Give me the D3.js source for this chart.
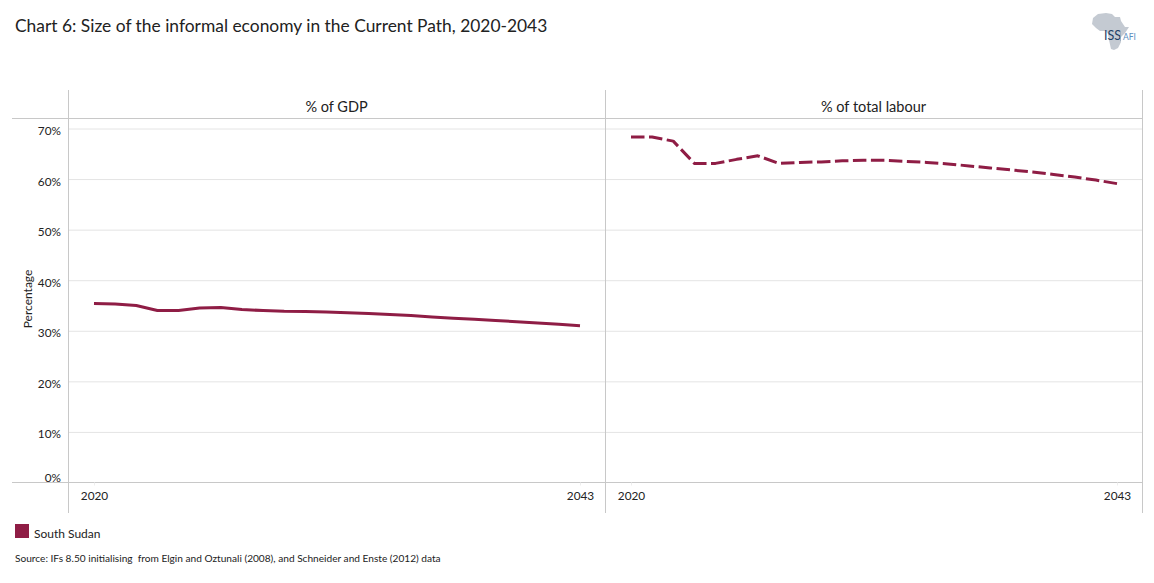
<!DOCTYPE html>
<html>
<head>
<meta charset="utf-8">
<script src="https://cdn.jsdelivr.net/npm/d3@7"></script>
<style>
html, body { margin: 0; padding: 0; background: #fff; }
svg { display: block; }
text { font-family: Lato, "Open Sans", sans-serif; fill: #222; }
</style>
</head>
<body>
<svg id="output" width="1154" height="583"></svg>
<script>
// values
var years = [2020, 2021, 2022, 2023, 2024, 2025, 2026, 2027, 2028, 2029, 2030, 2031,
    2032, 2033, 2034, 2035, 2036, 2037, 2038, 2039, 2040, 2041, 2042, 2043];
var gdpValues = [35.4, 35.3, 35.0, 34.0, 34.0, 34.5, 34.6, 34.2, 34.0, 33.85, 33.8, 33.7,
    33.55, 33.4, 33.2, 33.0, 32.75, 32.5, 32.3, 32.05, 31.8, 31.55, 31.3, 31.0];
var labourValues = [68.3, 68.3, 67.5, 63.1, 63.1, 63.9, 64.6, 63.1, 63.3, 63.4, 63.6, 63.7,
    63.7, 63.5, 63.3, 63.0, 62.6, 62.2, 61.8, 61.4, 60.9, 60.4, 59.8, 59.1];
var yTicks = [0, 10, 20, 30, 40, 50, 60, 70];
var xTicks = [2020, 2043];
var panelTitles = ["% of GDP", "% of total labour"];
var seriesName = "South Sudan";
var color = "#8f1d45";

var svg = d3.select('#output');
var frameTop = 90, head = 118.5, base = 482.5, frameBottom = 513;
var edges = [68.5, 605.5, 1142.5];

var y = d3.scaleLinear().domain([0, 70]).range([base, 128.5]);

svg.append('text').attr('x', 15).attr('y', 32).attr('font-size', 17.4).text("Chart 6: Size of the informal economy in the Current Path, 2020-2043");

// gridlines
svg.append('g').attr('transform', 'translate(' + edges[0] + ',0)')
    .call(d3.axisLeft(y).tickValues(yTicks.slice(1)).tickSize(-(edges[2] - edges[0])).tickFormat(''))
    .call(function (g) {
        g.select('.domain').remove();
        g.selectAll('line').attr('stroke', '#e4e4e4').attr('stroke-width', 1);
    });

// frame
var frame = svg.append('g').attr('stroke', '#c8c8c8').attr('stroke-width', 1);
frame.append('line').attr('x1', 12).attr('x2', edges[2]).attr('y1', head).attr('y2', head);
frame.append('line').attr('x1', 12).attr('x2', edges[2]).attr('y1', base).attr('y2', base);
edges.forEach(function (e) {
    frame.append('line').attr('x1', e).attr('x2', e).attr('y1', frameTop).attr('y2', frameBottom);
});

// y labels, the 0% one sits above the base line
svg.append('g').attr('transform', 'translate(61,0)')
    .call(d3.axisLeft(y).tickValues(yTicks).tickSize(0).tickPadding(0).tickFormat(function (d) { return d + '%'; }))
    .call(function (g) {
        g.select('.domain').remove();
        g.selectAll('text').attr('font-size', 11.8).attr('dy', 0).attr('y', function (d) { return d == 0 ? -1 : 6; })
            .style('font-family', 'Lato, "Open Sans", sans-serif').style('fill', '#222');
    });

svg.append('text').attr('transform', 'translate(32,299) rotate(-90)').attr('text-anchor', 'middle')
    .attr('font-size', 12).text("Percentage");

// panels
var data = [gdpValues, labourValues];
for (var i = 0; i < 2; i++) {
    var x = d3.scaleLinear().domain([2020, 2043]).range([edges[i] + 25.5, edges[i] + 511.5]);
    var panel = svg.append('g');

    panel.append('text').attr('x', (edges[i] + edges[i + 1]) / 2 - 0.5).attr('y', 112).attr('text-anchor', 'middle')
        .attr('font-size', 14.5).text(panelTitles[i]);

    panel.append('g').attr('transform', 'translate(0,' + base + ')')
        .call(d3.axisBottom(x).tickValues(xTicks).tickSize(3).tickPadding(6).tickFormat(d3.format('d')))
        .call(function (g) {
            g.select('.domain').remove();
            g.selectAll('line').attr('stroke', '#eeeeee');
            g.selectAll('text').attr('font-size', 11.8)
                .style('font-family', 'Lato, "Open Sans", sans-serif').style('fill', '#222');
        });

    var line = d3.line().x(function (d, k) { return x(years[k]); }).y(function (d) { return y(d); });
    var path = panel.append('path').datum(data[i]).attr('d', line).attr('fill', 'none')
        .attr('stroke', color).attr('stroke-width', 3).attr('stroke-linejoin', 'round');
    if (i == 1) {
        // stretch the gap a little so the line ends on a full dash
        var len = path.node().getTotalLength();
        var dash = 13.5;
        var n = Math.round((len - dash) / 17.8);
        path.attr('stroke-dasharray', dash + ' ' + ((len - dash) / n - dash));
    }
}

// legend and source
svg.append('rect').attr('x', 15).attr('y', 524).attr('width', 14).attr('height', 14).attr('fill', color);
svg.append('text').attr('x', 34).attr('y', 538).attr('font-size', 12).text(seriesName);
svg.append('text').attr('x', 15).attr('y', 562).attr('font-size', 10.15).attr('xml:space', 'preserve')
    .text("Source: IFs 8.50 initialising  from Elgin and Oztunali (2008), and Schneider and Enste (2012) data");

// logo
var logo = svg.append('g');
logo.append('path').attr('fill', '#c4cad2')
    .attr('d', 'M1098,14 L1106,13 L1112,14 L1115,17 L1120,17 L1121,21 L1125,27 L1129,27 L1125,33 L1121,37 L1121,42 L1118,48 L1114,50 L1111,49 L1109,40 L1108,34 L1106,31 L1100,31 L1096,28 L1092,24 L1093,18 Z');
logo.append('text').attr('x', 1104).attr('y', 40).attr('font-size', 12.5).style('fill', '#1f3f66').text("ISS");
logo.append('line').attr('x1', 1120.5).attr('x2', 1120.5).attr('y1', 31).attr('y2', 41).attr('stroke', '#8fa6bd').attr('stroke-width', 0.7);
logo.append('text').attr('x', 1123).attr('y', 39.5).attr('font-size', 8.5).style('fill', '#5b8fc0').text("AFI");
</script>
</body>
</html>
